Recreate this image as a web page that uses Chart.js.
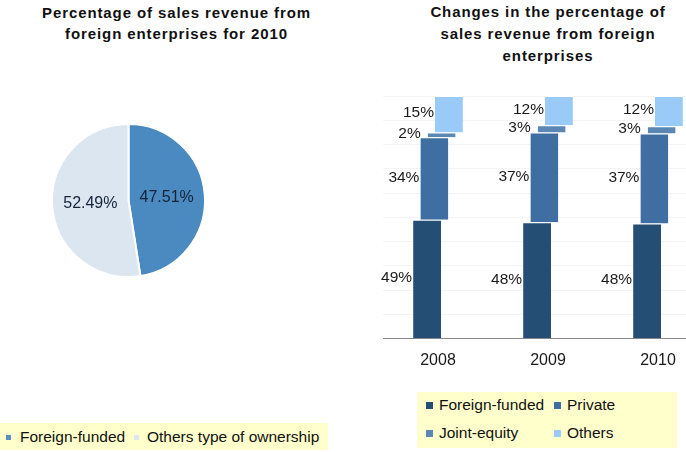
<!DOCTYPE html>
<html>
<head>
<meta charset="utf-8">
<script src="https://cdn.jsdelivr.net/npm/chart.js@4/dist/chart.umd.min.js"></script>
<style>
  html, body { margin:0; padding:0; background:#fff; overflow:hidden; }
  #page { position:relative; width:686px; height:452px; overflow:hidden; font-family:"Liberation Sans", Arial, sans-serif; }
  .title { position:absolute; text-align:center; font-weight:bold; font-size:15px; letter-spacing:0.9px; line-height:21px; color:#111; }
  .legend { position:absolute; background:#FFFFCC; font-size:15.5px; color:#111; }
  .item { position:absolute; white-space:nowrap; line-height:18px; }
  .mk { position:absolute; }
  canvas { position:absolute; }
</style>
</head>
<body>
<div id="page">
  <div class="title" style="left:0; top:2px; width:353px;">Percentage of sales revenue from<br>foreign enterprises for 2010</div>
  <div class="title" style="left:393px; top:1px; width:310px; line-height:22px;">Changes in the percentage of<br>sales revenue from foreign<br>enterprises</div>

  <canvas id="pie" width="155" height="155" style="left:51px; top:123px;"></canvas>
  <canvas id="bars" width="370" height="296" style="left:343px; top:86px;"></canvas>

  <div class="legend" style="left:0; top:423px; width:328px; height:27px;">
    <div class="mk" style="left:6px; top:12px; width:5px; height:5px; background:#5B8DBF;"></div>
    <div class="item" style="left:20px; top:5px;">Foreign-funded</div>
    <div class="mk" style="left:134px; top:12px; width:5px; height:5px; background:#DCE6F2;"></div>
    <div class="item" style="left:147px; top:5px;">Others type of ownership</div>
  </div>

  <div class="legend" style="left:417px; top:392px; width:260px; height:56px;">
    <div class="mk" style="left:9px; top:10px; width:7px; height:7px; background:#254E74;"></div>
    <div class="item" style="left:22px; top:4px;">Foreign-funded</div>
    <div class="mk" style="left:137px; top:10px; width:7px; height:7px; background:#3F6FA2;"></div>
    <div class="item" style="left:150px; top:4px;">Private</div>
    <div class="mk" style="left:9px; top:38px; width:7px; height:7px; background:#5B87B5;"></div>
    <div class="item" style="left:22px; top:32px;">Joint-equity</div>
    <div class="mk" style="left:137px; top:38px; width:7px; height:7px; background:#9ACBF8;"></div>
    <div class="item" style="left:150px; top:32px;">Others</div>
  </div>
</div>

<script>
// ---- data ----
const pieLabels = ['Foreign-funded', 'Others type of ownership'];
const pieValues = [47.51, 52.49];

const years = ['2008', '2009', '2010'];
const foreignFunded = [49, 48, 47.51];
const privateShare = [34, 37, 37];
const jointEquity = [2, 3, 3];
const others = [15, 12, 12.49];
const seriesNames = ['Foreign-funded', 'Private', 'Joint-equity', 'Others'];

// ---- pie ----
const pieLabelPlugin = {
  id: 'pieLabels',
  afterDatasetsDraw(chart) {
    const ctx = chart.ctx;
    const meta = chart.getDatasetMeta(0);
    ctx.save();
    ctx.font = '16px "Liberation Sans", Arial, sans-serif';
    ctx.fillStyle = '#14233a';
    ctx.textAlign = 'center';
    ctx.textBaseline = 'middle';
    meta.data.forEach((arc, i) => {
      const p = arc.getProps(['x', 'y', 'startAngle', 'endAngle', 'outerRadius'], true);
      const mid = (p.startAngle + p.endAngle) / 2;
      const r = p.outerRadius * 0.5;
      ctx.fillText(pieValues[i].toFixed(2) + '%', p.x + Math.cos(mid) * r, p.y + Math.sin(mid) * r);
    });
    ctx.restore();
  }
};

new Chart(document.getElementById('pie'), {
  type: 'pie',
  data: {
    labels: pieLabels,
    datasets: [{
      data: pieValues,
      backgroundColor: ['#4A8AC0', '#DCE6F0'],
      borderColor: '#ffffff',
      borderWidth: 2
    }]
  },
  options: {
    responsive: false,
    animation: false,
    layout: { padding: 0 },
    plugins: { legend: { display: false }, tooltip: { enabled: false } }
  },
  plugins: [pieLabelPlugin]
});

// ---- bars ----
const seriesValues = [foreignFunded, privateShare, jointEquity, others];
const barColors = ['#254E74', '#3F6FA2', '#5B87B5', '#9ACBF8'];
const labelShift = [0, 0, 6, 0];

const cumulative = years.map(() => 0);
const barDatasets = seriesValues.map((vals, s) => {
  const data = vals.map((v, j) => {
    const start = cumulative[j];
    cumulative[j] += v;
    return [start, cumulative[j]];
  });
  return {
    label: seriesNames[s],
    data: data,
    rawValues: vals,
    labelShift: labelShift[s],
    backgroundColor: barColors[s],
    borderColor: '#ffffff',
    borderWidth: { top: 1, left: 0, right: 0, bottom: 0 },
    borderSkipped: false,
    categoryPercentage: 0.265,
    barPercentage: 3.83
  };
});

const barLabelPlugin = {
  id: 'barLabels',
  afterDatasetsDraw(chart) {
    const ctx = chart.ctx;
    ctx.save();
    ctx.font = '15.5px "Liberation Sans", Arial, sans-serif';
    ctx.fillStyle = '#1a1a1a';
    ctx.textAlign = 'right';
    ctx.textBaseline = 'middle';
    chart.data.datasets.forEach((ds, i) => {
      const meta = chart.getDatasetMeta(i);
      meta.data.forEach((bar, j) => {
        const p = bar.getProps(['x', 'y', 'base', 'width'], true);
        const v = ds.rawValues[j];
        ctx.fillText(Math.round(v) + '%', p.x - p.width / 2 - 1 - ds.labelShift, (p.y + p.base) / 2 - 1);
      });
    });
    ctx.restore();
  }
};

new Chart(document.getElementById('bars'), {
  type: 'bar',
  data: { labels: years, datasets: barDatasets },
  options: {
    responsive: false,
    animation: false,
    layout: { padding: { left: 40, top: 10, right: 0, bottom: 0 } },
    plugins: { legend: { display: false }, tooltip: { enabled: false } },
    scales: {
      x: {
        grid: { display: false, drawTicks: false },
        border: { display: true, color: '#8a8a8a', width: 1 },
        ticks: { padding: 12, color: '#1a1a1a', font: { family: '"Liberation Sans", Arial, sans-serif', size: 16 } }
      },
      y: {
        min: 0,
        max: 100,
        grid: { color: '#f4f4f4', drawTicks: false },
        border: { display: false },
        ticks: { display: false, stepSize: 10 }
      }
    }
  },
  plugins: [barLabelPlugin]
});
</script>
</body>
</html>
